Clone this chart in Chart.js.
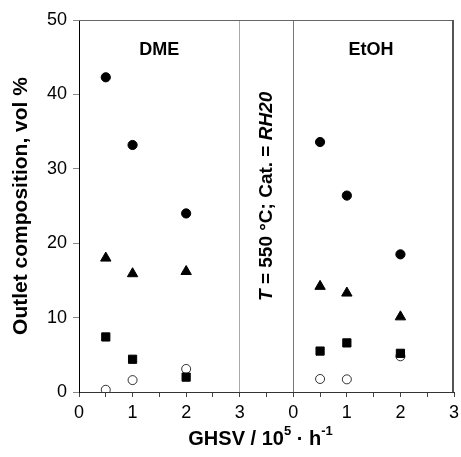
<!DOCTYPE html>
<html>
<head>
<meta charset="utf-8">
<script src="https://cdn.jsdelivr.net/npm/chart.js@4.4.1/dist/chart.umd.min.js"></script>
<style>
  html, body { margin: 0; padding: 0; background: #fff; }
  #wrap { width: 461px; height: 457px; }
</style>
</head>
<body>
<div id="wrap"><canvas id="chart"></canvas></div>
<script>
// GHSV (10^5 h^-1) at which each feed was measured
const ghsv = [0.5, 1, 2];

// outlet composition, vol % — DME feed
const dmeFilledCircle = [42.3, 33.2, 24.0];
const dmeTriangle = [18.0, 15.9, 16.2];
const dmeSquare = [7.4, 4.4, 2.0];
const dmeOpenCircle = [0.3, 1.6, 3.1];

// outlet composition, vol % — EtOH feed
const etohFilledCircle = [33.6, 26.4, 18.5];
const etohTriangle = [14.2, 13.3, 10.1];
const etohSquare = [5.5, 6.6, 5.2];
const etohOpenCircle = [1.75, 1.7, 4.8];

const xTickLabels = ["0", "1", "2", "3"];
const yTicks = [0, 10, 20, 30, 40, 50];

// right panel sits 4 units further along the shared x scale
const panelOffset = 4;

function points(xs, ys, offset) {
    return xs.map((x, i) => ({ x: x + offset, y: ys[i] }));
}

function series(label, dme, etoh, style) {
    return Object.assign({
        label: label,
        data: points(ghsv, dme, 0).concat(points(ghsv, etoh, panelOffset)),
        showLine: false,
    }, style);
}

const fontFamily = "'Liberation Sans', Arial, sans-serif";

const decorations = {
    id: "decorations",
    afterDraw(chart) {
        const ctx = chart.ctx;
        const area = chart.chartArea;
        const xs = chart.scales.x;
        const ys = chart.scales.y;
        ctx.save();

        // frame: top and right edges
        ctx.strokeStyle = "#666";
        ctx.lineWidth = 1;
        ctx.beginPath();
        ctx.moveTo(area.left, area.top + 0.5);
        ctx.lineTo(area.right, area.top + 0.5);
        ctx.stroke();
        ctx.lineWidth = 2;
        ctx.strokeStyle = "#555";
        ctx.beginPath();
        ctx.moveTo(area.right - 1, area.top);
        ctx.lineTo(area.right - 1, area.bottom);
        ctx.stroke();

        // panel labels
        ctx.fillStyle = "#000";
        ctx.font = "bold 18px " + fontFamily;
        ctx.textAlign = "center";
        ctx.textBaseline = "middle";
        ctx.fillText("DME", xs.getPixelForValue(1.5), ys.getPixelForValue(46));
        ctx.fillText("EtOH", xs.getPixelForValue(panelOffset + 1.45), ys.getPixelForValue(46));

        // rotated conditions note, mixed italic / upright parts
        const parts = [
            ["italic bold", "T"],
            ["bold", " = 550 °C; Cat. = "],
            ["italic bold", "RH20"],
        ];
        ctx.save();
        ctx.translate(xs.getPixelForValue(3.5), ys.getPixelForValue(26.3));
        ctx.rotate(-Math.PI / 2);
        let total = 0;
        parts.forEach(([w, t]) => {
            ctx.font = w + " 19px " + fontFamily;
            total += ctx.measureText(t).width;
        });
        let px = -total / 2;
        ctx.textAlign = "left";
        parts.forEach(([w, t]) => {
            ctx.font = w + " 19px " + fontFamily;
            ctx.fillText(t, px, 0);
            px += ctx.measureText(t).width;
        });
        ctx.restore();

        // x axis title with superscripts
        const title = [
            ["GHSV / 10", 20, 0],
            ["5", 13, -8],
            [" · h", 20, 0],
            ["-1", 13, -8],
        ];
        let w = 0;
        title.forEach(([t, s]) => {
            ctx.font = "bold " + s + "px " + fontFamily;
            w += ctx.measureText(t).width;
        });
        let tx = (area.left + area.right) / 2 - w / 2 - 6;
        const ty = 439;
        ctx.textAlign = "left";
        ctx.textBaseline = "middle";
        title.forEach(([t, s, dy]) => {
            ctx.font = "bold " + s + "px " + fontFamily;
            ctx.fillText(t, tx, ty + dy);
            tx += ctx.measureText(t).width;
        });

        ctx.restore();
    }
};

const ctx = document.getElementById("chart").getContext("2d");
new Chart(ctx, {
    type: "scatter",
    data: {
        datasets: [
            series("filled circle", dmeFilledCircle, etohFilledCircle, {
                pointStyle: "circle", pointRadius: 4.6,
                backgroundColor: "#000", borderColor: "#000", borderWidth: 1,
            }),
            series("triangle", dmeTriangle, etohTriangle, {
                pointStyle: "triangle", pointRadius: 6,
                backgroundColor: "#000", borderColor: "#000", borderWidth: 1,
            }),
            series("square", dmeSquare, etohSquare, {
                pointStyle: "rect", pointRadius: 5.8,
                backgroundColor: "#000", borderColor: "#000", borderWidth: 1,
            }),
            series("open circle", dmeOpenCircle, etohOpenCircle, {
                pointStyle: "circle", pointRadius: 4.5,
                backgroundColor: "#fff", borderColor: "#000", borderWidth: 0.8,
            }),
        ],
    },
    options: {
        responsive: true,
        maintainAspectRatio: false,
        animation: false,
        events: [],
        layout: { padding: { top: 20, right: 0, left: 0, bottom: 0 } },
        plugins: {
            legend: { display: false },
            tooltip: { enabled: false },
        },
        scales: {
            x: {
                type: "linear",
                min: 0,
                max: 7,
                afterFit: (scale) => {
                    scale.height = 65;
                    scale.paddingRight = 4;
                    scale.paddingLeft = 0;
                },
                afterBuildTicks: (scale) => {
                    const t = [];
                    for (let v = 0; v <= 7; v += 0.5) t.push({ value: v });
                    scale.ticks = t;
                },
                ticks: {
                    autoSkip: false,
                    maxRotation: 0,
                    padding: 5,
                    color: "#000",
                    font: { family: fontFamily, size: 18 },
                    callback: (v) => {
                        if (!Number.isInteger(v)) return "";
                        if (v <= 3) return xTickLabels[v];
                        if (v >= panelOffset) return xTickLabels[v - panelOffset];
                        return "";
                    },
                },
                grid: {
                    drawOnChartArea: true,
                    tickLength: 5,
                    tickColor: "#444",
                    color: (c) => {
                        const v = c.tick ? c.tick.value : null;
                        if (v === 3) return "#aaa";
                        if (v === panelOffset) return "#777";
                        return "rgba(0,0,0,0)";
                    },
                },
                border: { color: "#333", width: 1 },
            },
            y: {
                min: 0,
                max: 50,
                afterFit: (scale) => { scale.width = 79; },
                afterBuildTicks: (scale) => {
                    scale.ticks = yTicks.map((v) => ({ value: v }));
                },
                ticks: {
                    padding: 6,
                    color: "#000",
                    font: { family: fontFamily, size: 18 },
                },
                grid: {
                    drawOnChartArea: false,
                    tickLength: 6,
                    tickColor: "#888",
                },
                border: { color: "#000", width: 1 },
                title: {
                    display: true,
                    text: "Outlet composition, vol %",
                    color: "#000",
                    font: { family: fontFamily, size: 21, weight: "bold" },
                    padding: { top: 9, bottom: 0 },
                },
            },
        },
    },
    plugins: [decorations],
});
</script>
</body>
</html>
